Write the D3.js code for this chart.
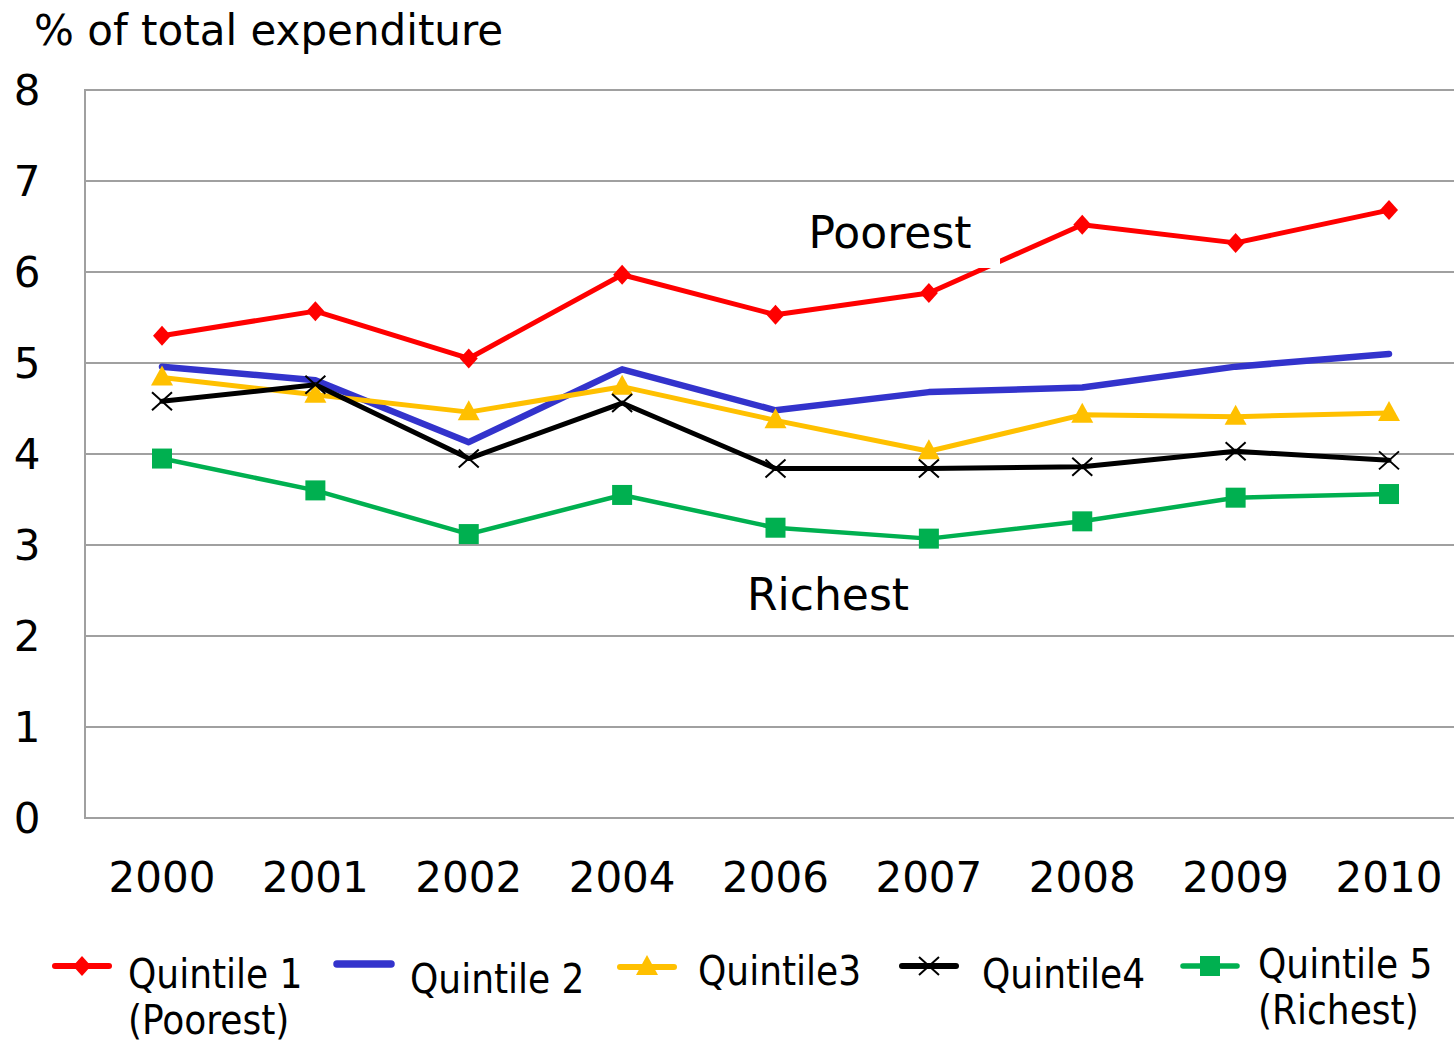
<!DOCTYPE html>
<html lang="en">
<head>
    <meta charset="UTF-8">
    <title>% of total expenditure by quintile</title>
    <script src="https://d3js.org/d3.v7.min.js"></script>
    <style>
        body {
            margin: 0;
            background-color: white;
        }

        text {
            font-family: "DejaVu Sans", sans-serif;
            fill: black;
        }

        .grid line {
            stroke: #a0a0a0;
            stroke-width: 2;
        }

        .legend text {
            font-family: "DejaVu Sans Condensed", "DejaVu Sans", sans-serif;
            font-size: 40px;
        }
    </style>
</head>
<body>
    <svg id="chart"></svg>
    <script>
        // data
        var years = ["2000", "2001", "2002", "2004", "2006", "2007", "2008", "2009", "2010"];
        var quintile1 = [5.30, 5.57, 5.05, 5.97, 5.53, 5.77, 6.52, 6.32, 6.68];
        var quintile2 = [4.96, 4.81, 4.13, 4.93, 4.48, 4.68, 4.73, 4.96, 5.10];
        var quintile3 = [4.84, 4.65, 4.46, 4.74, 4.37, 4.03, 4.43, 4.41, 4.45];
        var quintile4 = [4.58, 4.76, 3.95, 4.56, 3.84, 3.84, 3.86, 4.03, 3.93];
        var quintile5 = [3.95, 3.60, 3.12, 3.55, 3.19, 3.07, 3.26, 3.52, 3.56];
        var yTicks = [0, 1, 2, 3, 4, 5, 6, 7, 8];
        var seriesNames = [["Quintile 1", "(Poorest)"], ["Quintile 2"], ["Quintile3"], ["Quintile4"], ["Quintile 5", "(Richest)"]];

        var width = 1454, height = 1046;
        var svg = d3.select("#chart").attr("width", width).attr("height", height);

        var plotLeft = 85, plotTop = 90, plotBottom = 818;

        var x = d3.scalePoint().domain(years).range([162, 1389]);
        var y = d3.scaleLinear().domain([0, 8]).range([plotBottom, plotTop]);

        var series = [
            { values: quintile1, color: "#ff0000", width: 5, marker: "diamond" },
            { values: quintile2, color: "#3333cc", width: 6.5, marker: "none" },
            { values: quintile3, color: "#ffc000", width: 5, marker: "triangle" },
            { values: quintile4, color: "#000000", width: 5, marker: "cross" },
            { values: quintile5, color: "#00b050", width: 4.5, marker: "square" }
        ];

        // title
        svg.append("text")
            .attr("x", 34).attr("y", 45)
            .style("font-size", "42px")
            .text("% of total expenditure");

        // grid
        var grid = svg.append("g").attr("class", "grid");
        grid.selectAll("line.h")
            .data(yTicks)
            .enter().append("line")
            .attr("x1", plotLeft).attr("x2", width)
            .attr("y1", d => y(d)).attr("y2", d => y(d));
        grid.append("line")
            .attr("x1", plotLeft).attr("x2", plotLeft)
            .attr("y1", y(8) - 1).attr("y2", y(0) + 1);

        // y labels
        svg.selectAll(".ylab")
            .data(yTicks)
            .enter().append("text")
            .attr("class", "ylab")
            .attr("x", 27).attr("y", d => y(d) + 15)
            .attr("text-anchor", "middle")
            .style("font-size", "42px")
            .text(d => d);

        // x labels
        svg.selectAll(".xlab")
            .data(years)
            .enter().append("text")
            .attr("class", "xlab")
            .attr("x", d => x(d)).attr("y", 892)
            .attr("text-anchor", "middle")
            .style("font-size", "42px")
            .text(d => d);

        var line = d3.line()
            .x((d, i) => x(years[i]))
            .y(d => y(d));

        svg.selectAll(".series")
            .data(series)
            .enter().append("path")
            .attr("class", "series")
            .attr("d", d => line(d.values))
            .attr("fill", "none")
            .attr("stroke", d => d.color)
            .attr("stroke-width", d => d.width)
            .attr("stroke-linejoin", "round")
            .attr("stroke-linecap", "round");

        function drawMarker(g, type, color) {
            if (type == "diamond") {
                g.append("path").attr("d", "M0,-10L9,0L0,10L-9,0Z").attr("fill", color);
            } else if (type == "triangle") {
                g.append("path").attr("d", "M0,-12L11,8L-11,8Z").attr("fill", color);
            } else if (type == "cross") {
                g.append("path").attr("d", "M-10,-9L10,9M-10,9L10,-9")
                    .attr("stroke", color).attr("stroke-width", 2).attr("fill", "none");
            } else if (type == "square") {
                g.append("rect").attr("x", -10).attr("y", -10).attr("width", 20).attr("height", 20).attr("fill", color);
            }
        }

        series.forEach(function (s) {
            if (s.marker == "none") return;
            s.values.forEach(function (v, i) {
                var g = svg.append("g").attr("transform", "translate(" + x(years[i]) + "," + y(v) + ")");
                drawMarker(g, s.marker, s.color);
            });
        });

        // annotations
        svg.append("rect")
            .attr("x", 796).attr("y", 200).attr("width", 204).attr("height", 68)
            .attr("fill", "white");
        svg.append("text")
            .attr("x", 890).attr("y", 248)
            .attr("text-anchor", "middle")
            .style("font-size", "44px")
            .text("Poorest");
        svg.append("text")
            .attr("x", 828).attr("y", 610)
            .attr("text-anchor", "middle")
            .style("font-size", "44px")
            .text("Richest");

        // legend
        var legendPos = [
            { lx: 55, ly: 966, tx: 128, ty: 988 },
            { lx: 337, ly: 964, tx: 410, ty: 993 },
            { lx: 620, ly: 967, tx: 698, ty: 985 },
            { lx: 902, ly: 966, tx: 982, ty: 988 },
            { lx: 1183, ly: 966, tx: 1258, ty: 978 }
        ];
        var legend = svg.append("g").attr("class", "legend");
        series.forEach(function (s, i) {
            var p = legendPos[i];
            legend.append("line")
                .attr("x1", p.lx).attr("x2", p.lx + 54)
                .attr("y1", p.ly).attr("y2", p.ly)
                .attr("stroke", s.color)
                .attr("stroke-width", s.width + 1)
                .attr("stroke-linecap", "round");
            var g = legend.append("g").attr("transform", "translate(" + (p.lx + 27) + "," + p.ly + ")");
            drawMarker(g, s.marker, s.color);
            var t = legend.append("text").attr("x", p.tx).attr("y", p.ty);
            seriesNames[i].forEach(function (name, j) {
                t.append("tspan").attr("x", p.tx).attr("dy", j == 0 ? 0 : 46).text(name);
            });
        });
    </script>
</body>
</html>
